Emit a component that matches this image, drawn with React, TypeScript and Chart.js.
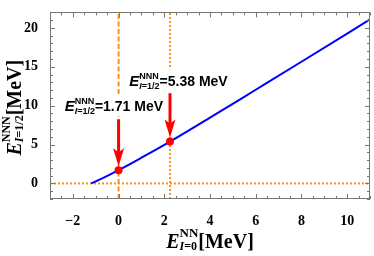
import React, { useEffect, useRef } from "react";
import { Chart, registerables } from "chart.js";
Chart.register(...registerables);

// ---- data ----
const curveX = [-1.2, -0.6, 0, 1, 2.25, 4, 6, 8, 11];
const curveY = [0, 0.82, 1.71, 3.31, 5.38, 8.46, 12.05, 15.65, 21.1];
const markerX = [0, 2.25];
const markerY = [1.71, 5.38];
const arrowStartY = [8.24, 11.6];
const labelValues = ["1.71", "5.38"];
const labelAnchorX = [-2.36, 0.47];
const labelAnchorY = [9.33, 12.5];
const xTickValues = [-2, 0, 2, 4, 6, 8, 10];
const yTickValues = [0, 5, 10, 15, 20];
const xRange = [-3, 11];
const yRange = [-2, 22];
const xMinorStep = 0.5;
const yMinorStep = 1;

const ORANGE = "rgb(250,145,25)";
const RED = "rgb(255,0,0)";
const BLUE = "rgb(0,0,255)";
const FRAME = "#777";
const SERIF = "'Liberation Serif', 'Times New Roman', serif";
const SANS = "'Liberation Sans', Arial, sans-serif";

type Run = { t: string; f: string };
type Line = { runs: Run[]; dy: number };
type Block = Line[];

function lineWidth(ctx: CanvasRenderingContext2D, l: Line) {
  let w = 0;
  for (const r of l.runs) {
    ctx.font = r.f;
    w += ctx.measureText(r.t).width;
  }
  return w;
}
function richWidth(ctx: CanvasRenderingContext2D, blocks: Block[]) {
  let w = 0;
  for (const b of blocks) w += Math.max(...b.map((l) => lineWidth(ctx, l)));
  return w;
}
function drawRich(ctx: CanvasRenderingContext2D, x: number, y: number, blocks: Block[]) {
  let cx = x;
  ctx.textBaseline = "alphabetic";
  ctx.textAlign = "left";
  for (const b of blocks) {
    let bw = 0;
    for (const l of b) {
      let lx = cx;
      for (const r of l.runs) {
        ctx.font = r.f;
        ctx.fillText(r.t, lx, y + l.dy);
        lx += ctx.measureText(r.t).width;
      }
      bw = Math.max(bw, lx - cx);
    }
    cx += bw;
  }
}

function xTitle(): Block[] {
  return [
    [{ runs: [{ t: "E", f: `italic bold 20px ${SERIF}` }], dy: 0 }],
    [
      { runs: [{ t: "NN", f: `bold 13px ${SERIF}` }], dy: -11 },
      { runs: [{ t: "I", f: `italic bold 12px ${SERIF}` }, { t: "=0", f: `bold 12px ${SERIF}` }], dy: 2 },
    ],
    [{ runs: [{ t: "[MeV]", f: `bold 20px ${SERIF}` }], dy: 0 }],
  ];
}
function yTitle(): Block[] {
  return [
    [{ runs: [{ t: "E", f: `italic bold 20px ${SERIF}` }], dy: 0 }],
    [
      { runs: [{ t: "NNN", f: `bold 12px ${SERIF}` }], dy: -11 },
      { runs: [{ t: "I", f: `italic bold 12px ${SERIF}` }, { t: "=1/2", f: `bold 12px ${SERIF}` }], dy: 2 },
    ],
    [{ runs: [{ t: "[MeV]", f: `bold 20px ${SERIF}` }], dy: 0 }],
  ];
}
function annot(v: string): Block[] {
  return [
    [{ runs: [{ t: "E", f: `italic bold 15px ${SANS}` }], dy: 0 }],
    [
      { runs: [{ t: "NNN", f: `bold 9px ${SANS}` }], dy: -7 },
      { runs: [{ t: "I", f: `italic bold 9px ${SANS}` }, { t: "=1/2", f: `bold 9px ${SANS}` }], dy: 3 },
    ],
    [{ runs: [{ t: `=${v} MeV`, f: `bold 14px ${SANS}` }], dy: 0 }],
  ];
}

const overlay = {
  id: "overlay",
  afterDatasetsDraw(chart: any) {
    const ctx: CanvasRenderingContext2D = chart.ctx;
    const xs = chart.scales.x;
    const ys = chart.scales.y;
    ctx.save();
    for (let i = 0; i < labelValues.length; i++) {
      const bl = annot(labelValues[i]);
      const lx = xs.getPixelForValue(labelAnchorX[i]);
      const ly = ys.getPixelForValue(labelAnchorY[i]);
      const w = richWidth(ctx, bl);
      ctx.fillStyle = "#fff";
      ctx.fillRect(lx - 1, ly - 17, w + 3, 22);
      ctx.fillStyle = "#000";
      drawRich(ctx, lx, ly, bl);
    }
    for (let i = 0; i < markerX.length; i++) {
      const x = xs.getPixelForValue(markerX[i]);
      const y0 = ys.getPixelForValue(arrowStartY[i]);
      const tip = ys.getPixelForValue(markerY[i]) - 4;
      ctx.strokeStyle = RED;
      ctx.lineWidth = 3;
      ctx.beginPath();
      ctx.moveTo(x, y0);
      ctx.lineTo(x, tip - 13);
      ctx.stroke();
      ctx.fillStyle = RED;
      ctx.beginPath();
      ctx.moveTo(x, tip);
      ctx.lineTo(x - 5.5, tip - 18);
      ctx.lineTo(x, tip - 14);
      ctx.lineTo(x + 5.5, tip - 18);
      ctx.closePath();
      ctx.fill();
    }
    ctx.restore();
  },
  afterDraw(chart: any) {
    const ctx: CanvasRenderingContext2D = chart.ctx;
    const { left, right, top, bottom } = chart.chartArea;
    const xs = chart.scales.x;
    const ys = chart.scales.y;
    ctx.save();
    ctx.strokeStyle = FRAME;
    ctx.lineWidth = 1;
    ctx.strokeRect(Math.round(left) + 0.5, Math.round(top) + 0.5, Math.round(right - left) - 1, Math.round(bottom - top) - 1);
    ctx.beginPath();
    for (let v = xRange[0]; v <= xRange[1] + 1e-9; v += xMinorStep) {
      const major = xTickValues.some((t) => Math.abs(t - v) < 1e-6);
      const len = major ? 5 : 3;
      const px = Math.round(xs.getPixelForValue(v)) + 0.5;
      ctx.moveTo(px, bottom);
      ctx.lineTo(px, bottom - len);
      ctx.moveTo(px, top);
      ctx.lineTo(px, top + len);
    }
    for (let v = yRange[0]; v <= yRange[1] + 1e-9; v += yMinorStep) {
      const major = yTickValues.some((t) => Math.abs(t - v) < 1e-6);
      const len = major ? 5 : 3;
      const py = Math.round(ys.getPixelForValue(v)) + 0.5;
      ctx.moveTo(left, py);
      ctx.lineTo(left + len, py);
      ctx.moveTo(right, py);
      ctx.lineTo(right - len, py);
    }
    ctx.stroke();
    ctx.fillStyle = "#000";
    const xt = xTitle();
    const xw = richWidth(ctx, xt);
    drawRich(ctx, (left + right) / 2 - xw / 2, 248, xt);
    const yt = yTitle();
    const yw = richWidth(ctx, yt);
    ctx.translate(21, (top + bottom) / 2 + 2);
    ctx.rotate(-Math.PI / 2);
    drawRich(ctx, -yw / 2, 0, yt);
    ctx.restore();
  },
};

export default function App() {
  const ref = useRef<HTMLCanvasElement>(null);
  useEffect(() => {
    const canvas = ref.current!;
    const fmt = (v: number) => (v < 0 ? "\u2212" + Math.abs(v) : String(v));
    const chart = new Chart(canvas, {
      type: "scatter",
      data: {
        datasets: [
          {
            data: markerX.map((x, i) => ({ x, y: markerY[i] })),
            backgroundColor: RED,
            borderWidth: 0,
            pointRadius: 4,
            showLine: false,
            order: 0,
          } as any,
          {
            data: curveX.map((x, i) => ({ x, y: curveY[i] })),
            showLine: true,
            borderColor: BLUE,
            borderWidth: 2,
            pointRadius: 0,
            cubicInterpolationMode: "monotone",
            order: 1,
          },
          {
            data: [{ x: markerX[0], y: yRange[0] }, { x: markerX[0], y: yRange[1] }],
            showLine: true,
            borderColor: ORANGE,
            borderWidth: 2,
            borderDash: [5, 2.5],
            pointRadius: 0,
            order: 2,
          },
          {
            data: [{ x: markerX[1], y: yRange[0] }, { x: markerX[1], y: yRange[1] }],
            showLine: true,
            borderColor: ORANGE,
            borderWidth: 2,
            borderDash: [2, 2],
            pointRadius: 0,
            order: 2,
          },
          {
            data: [{ x: xRange[0], y: 0 }, { x: xRange[1], y: 0 }],
            showLine: true,
            borderColor: ORANGE,
            borderWidth: 2,
            borderDash: [2, 2],
            pointRadius: 0,
            order: 2,
          },
        ],
      },
      options: {
        animation: false,
        responsive: false,
        devicePixelRatio: 1,
        events: [],
        layout: { padding: { top: 1, right: 2, left: 0, bottom: 0 } },
        plugins: { legend: { display: false }, tooltip: { enabled: false } },
        scales: {
          x: {
            type: "linear",
            min: xRange[0],
            max: xRange[1],
            grid: { display: false },
            border: { display: false },
            afterBuildTicks: (s: any) => {
              s.ticks = xTickValues.map((value) => ({ value }));
            },
            afterFit: (s: any) => {
              s.height = 57;
            },
            ticks: {
              autoSkip: false,
              maxRotation: 0,
              padding: 6,
              color: "#000",
              font: { family: SERIF, size: 14, weight: "bold" },
              callback: (v: any) => fmt(Number(v)),
            },
          },
          y: {
            type: "linear",
            min: yRange[0],
            max: yRange[1],
            grid: { display: false },
            border: { display: false },
            afterBuildTicks: (s: any) => {
              s.ticks = yTickValues.map((value) => ({ value }));
            },
            afterFit: (s: any) => {
              s.width = 50;
            },
            ticks: {
              autoSkip: false,
              padding: 4,
              color: "#000",
              font: { family: SERIF, size: 14, weight: "bold" },
              callback: (v: any) => fmt(Number(v)),
            },
          },
        },
      },
      plugins: [overlay],
    } as any);
    return () => chart.destroy();
  }, []);
  return (
    <div style={{ position: "fixed", left: 0, top: 0, width: 374, height: 256, background: "#fff" }}>
      <canvas ref={ref} width={374} height={256} style={{ display: "block" }} />
    </div>
  );
}
